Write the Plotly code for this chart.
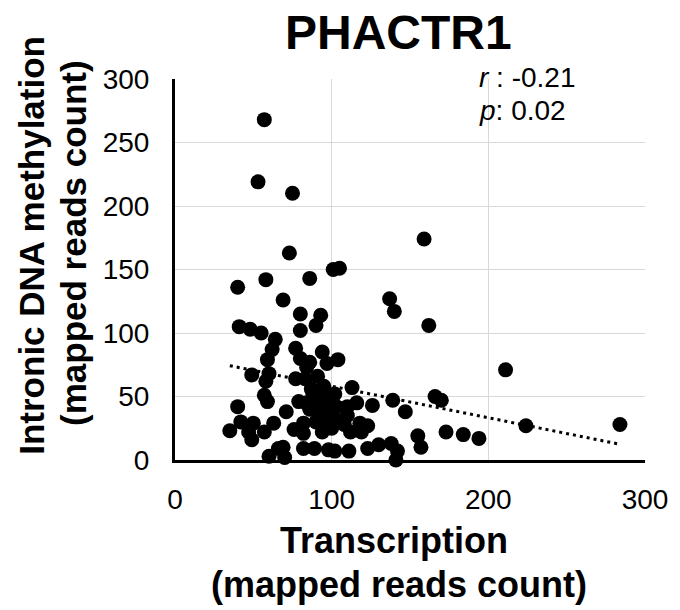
import numpy as np
import plotly.graph_objects as go

# Data (transcription vs intronic DNA methylation, mapped reads count)
transcription = [
    57, 53, 75, 73, 101, 105, 159, 40, 58, 86, 69, 137, 140, 162, 80, 93, 90, 80,
    41, 48, 55, 64, 62, 59, 77, 80, 84, 86, 94, 104, 97, 211, 49, 60, 58, 77, 91,
    95, 113, 83, 57, 59, 40, 79, 84, 91, 95, 99, 103, 110, 116, 126, 139, 147, 166,
    170, 71, 93, 88, 96, 100, 86, 92, 102, 98, 42, 50, 63, 35, 47, 57, 49, 82, 82,
    94, 95, 105, 110, 112, 118, 123, 119, 224, 284, 173, 184, 194, 155, 60, 69, 70,
    82, 89, 98, 102, 111, 123, 130, 138, 142, 141, 157, 90, 87, 100, 108, 76, 66,
]
methylation = [
    268, 219, 210, 163, 150, 151, 174, 136, 142, 143, 126, 127, 117, 106, 115, 114,
    106, 102, 105, 103, 100, 95, 87, 79, 88, 80, 73, 77, 85, 79, 76, 71, 67, 68, 62,
    64, 66, 58, 57, 64, 51, 46, 42, 46, 45, 44, 50, 47, 42, 42, 45, 43, 47, 38, 50,
    47, 38, 38, 52, 42, 36, 40, 50, 52, 30, 30, 29, 29, 23, 22, 22, 16, 29, 21, 22,
    33, 31, 35, 22, 29, 27, 22, 27, 28, 22, 20, 17, 19, 3, 10, 2, 9, 9, 8, 7, 7, 9,
    12, 13, 7, 0, 10, 30, 56, 25, 28, 24, 9,
]

x_ticks = [0, 100, 200, 300]
y_ticks = [0, 50, 100, 150, 200, 250, 300]

title_text = "PHACTR1"
x_title = ["Transcription", "(mapped reads count)"]
y_title = ["Intronic DNA methylation", "(mapped reads count)"]
stat_lines = ["<i>r</i> : -0.21", "<i>p</i>: 0.02"]

FONT = "Arial, Liberation Sans, sans-serif"

# Linear trend line (least squares) spanning the data range
coef = np.polyfit(transcription, methylation, 1)
trend_x = [min(transcription), max(transcription)]
trend_y = [coef[0] * v + coef[1] for v in trend_x]

fig = go.Figure()
fig.add_trace(go.Scatter(
    x=transcription, y=methylation, mode="markers",
    marker=dict(size=15, color="black", line=dict(width=0)),
    cliponaxis=False, showlegend=False, hoverinfo="x+y",
))
fig.add_trace(go.Scatter(
    x=trend_x, y=trend_y, mode="lines",
    line=dict(color="black", width=3, dash="3px,4px"),
    showlegend=False, hoverinfo="skip",
))

L, R, T, B = 175, 26, 79, 150
W, H = 680, 610
pw, ph = W - L - R, H - T - B

def px_to_paper_x(px):
    return (px - L) / pw

def px_to_paper_y(py):
    return (H - B - py) / ph

annotations = [
    dict(text=f"<b>{title_text}</b>", x=px_to_paper_x(403), y=px_to_paper_y(32),
         font=dict(size=48, family=FONT, color="black")),
    dict(text=f"<b>{x_title[0]}</b>", x=px_to_paper_x(398), y=px_to_paper_y(540),
         font=dict(size=36, family=FONT, color="black")),
    dict(text=f"<b>{x_title[1]}</b>", x=px_to_paper_x(403), y=px_to_paper_y(584),
         font=dict(size=36, family=FONT, color="black")),
    dict(text=f"<b>{y_title[0]}</b>", x=px_to_paper_x(28), y=px_to_paper_y(245),
         textangle=-90, font=dict(size=35, family=FONT, color="black")),
    dict(text=f"<b>{y_title[1]}</b>", x=px_to_paper_x(71), y=px_to_paper_y(243),
         textangle=-90, font=dict(size=35, family=FONT, color="black")),
    dict(text=stat_lines[0], x=px_to_paper_x(483), y=px_to_paper_y(78), xanchor="left",
         font=dict(size=28, family=FONT, color="black")),
    dict(text=stat_lines[1], x=px_to_paper_x(483), y=px_to_paper_y(110), xanchor="left",
         font=dict(size=28, family=FONT, color="black")),
]
for a in annotations:
    a.setdefault("xanchor", "center")
    a.update(xref="paper", yref="paper", yanchor="middle", showarrow=False)

fig.update_layout(
    width=W, height=H,
    margin=dict(l=L, r=R, t=T, b=B, pad=0),
    paper_bgcolor="white", plot_bgcolor="white",
    annotations=annotations,
    font=dict(family=FONT, color="black"),
)
fig.update_xaxes(
    range=[0, 300], tickvals=x_ticks, showgrid=True, gridcolor="#d9d9d9", gridwidth=1.3,
    showline=True, linecolor="black", linewidth=3, zeroline=False, ticks="",
    tickfont=dict(size=28, family=FONT, color="black"), ticklabelstandoff=12,
)
fig.update_yaxes(
    range=[0, 300], tickvals=y_ticks, showgrid=True, gridcolor="#d9d9d9", gridwidth=1.3,
    showline=True, linecolor="black", linewidth=3, zeroline=False, ticks="",
    tickfont=dict(size=28, family=FONT, color="black"), ticklabelstandoff=17,
)

fig.write_html("out.html", config={"displayModeBar": False})
